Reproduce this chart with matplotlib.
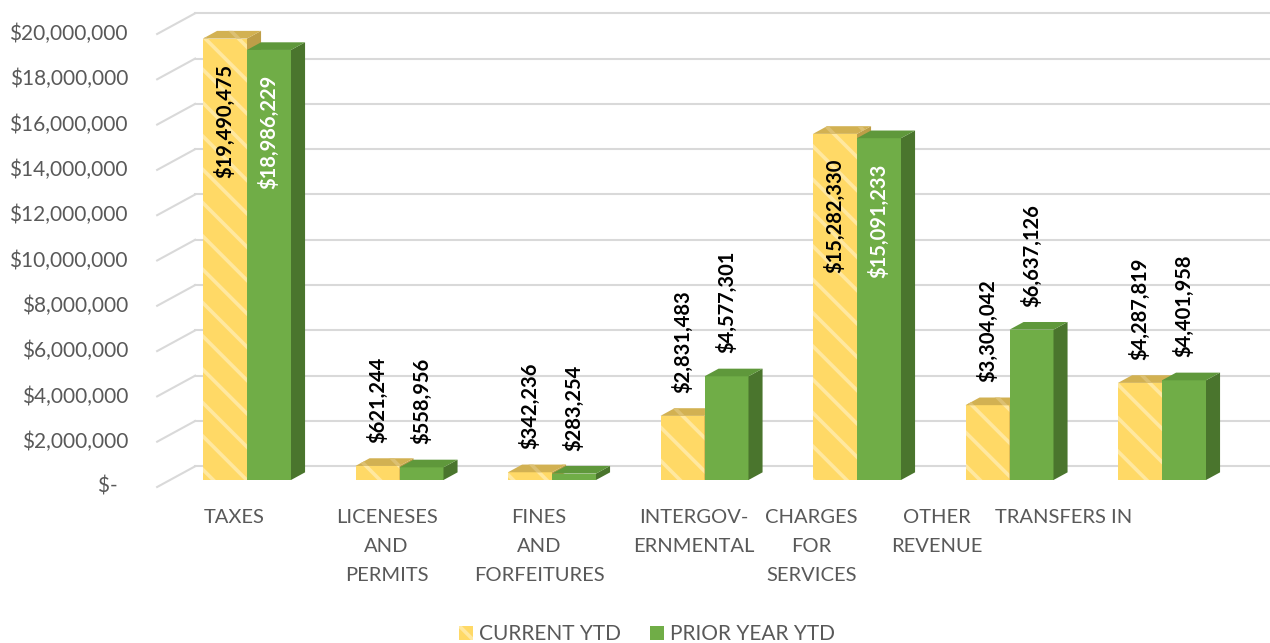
import matplotlib
matplotlib.use('Agg')
import matplotlib.pyplot as plt
from matplotlib.patches import Patch
import numpy as np

# data
categories = ['TAXES', 'LICENESES\nAND\nPERMITS', 'FINES\nAND\nFORFEITURES', 'INTERGOV-\nERNMENTAL',
              'CHARGES\nFOR\nSERVICES', 'OTHER\nREVENUE', 'TRANSFERS IN']
current_ytd = [19490475, 621244, 342236, 2831483, 15282330, 3304042, 4287819]
prior_ytd = [18986229, 558956, 283254, 4577301, 15091233, 6637126, 4401958]
series_names = ['CURRENT YTD', 'PRIOR YEAR YTD']
y_ticks = np.arange(0, 20000001, 2000000)

plt.rcParams['font.family'] = ['Lato', 'DejaVu Sans']
plt.rcParams['hatch.linewidth'] = 2.6

YELLOW = '#FFD966'
YELLOW_STRIPE = '#FFE8A0'
YELLOW_TOP = '#D2B152'
YELLOW_TOP_STRIPE = '#DCC072'
YELLOW_SIDE = '#BE9E48'
GREEN = '#70AD47'
GREEN_TOP = '#5F983B'
GREEN_SIDE = '#4A752D'
GRID = '#D9D9D9'
TEXT = '#595959'

# pixel scale of the 3d-ish box
PX_CAT = 152.5          # px per category
PX_VAL = 22.65e-6       # px per dollar
DEPTH_X = 38 / PX_CAT   # full depth of the box, in data units
DEPTH_Y = 20.7 / PX_VAL
F0 = 0.338              # bar front position within depth
BAR_D = 0.37            # bar depth fraction
W = 44 / PX_CAT         # bar width

fig = plt.figure(figsize=(12.7, 6.43), dpi=100)
ax = fig.add_axes([0, 0, 1, 1])
ax.set_axis_off()
ax.set_xlim((0 - 247) / PX_CAT, (1270 - 247) / PX_CAT)
ax.set_ylim((480 - 643) / PX_VAL, 480 / PX_VAL)

n = len(categories)
x = np.arange(n)
wall_left = -0.505
wall_right = wall_left + n + 0.04

# back wall gridlines and the slanted side wall lines
for v in y_ticks:
    yb = v + (1 - F0) * DEPTH_Y
    yf = v - F0 * DEPTH_Y
    xb = wall_left + (1 - F0) * DEPTH_X
    xf = wall_left - F0 * DEPTH_X
    ax.plot([xb, wall_right + (1 - F0) * DEPTH_X], [yb, yb], color=GRID, lw=1.5, zorder=0)
    ax.plot([xf, xb], [yf, yb], color=GRID, lw=1.5, zorder=0)
    label = '$-  ' if v == 0 else '${:,.0f}'.format(v)
    ax.text(128 / 1270, yf, label, transform=ax.get_yaxis_transform(), ha='right', va='center',
            fontsize=15, color=TEXT)

bdx = BAR_D * DEPTH_X
bdy = BAR_D * DEPTH_Y


def draw_bar(xl, v, front, top, side, stripe=None, top_stripe=None, z=2):
    if stripe:
        ax.bar(xl, v, width=W, align='edge', color=front, edgecolor=stripe, hatch='\\', lw=0, zorder=z)
    else:
        ax.bar(xl, v, width=W, align='edge', color=front, lw=0, zorder=z)
    xr = xl + W
    ax.fill([xr, xr, xr + bdx, xr + bdx], [0, v, v + bdy, bdy], color=side, lw=0, zorder=z)
    if top_stripe:
        ax.fill([xl, xr, xr + bdx, xl + bdx], [v, v, v + bdy, v + bdy], facecolor=top,
                edgecolor=top_stripe, hatch='\\', lw=0, zorder=z)
    else:
        ax.fill([xl, xr, xr + bdx, xl + bdx], [v, v, v + bdy, v + bdy], color=top, lw=0, zorder=z)


for i in range(n):
    draw_bar(x[i] - W, current_ytd[i], YELLOW, YELLOW_TOP, YELLOW_SIDE, YELLOW_STRIPE, YELLOW_TOP_STRIPE, z=2)
    draw_bar(x[i], prior_ytd[i], GREEN, GREEN_TOP, GREEN_SIDE, z=3)

# data labels
for i in range(n):
    for xc, v, inside_color in [(x[i] - W / 2, current_ytd[i], 'black'), (x[i] + W / 2, prior_ytd[i], 'white')]:
        txt = '${:,.0f}'.format(v)
        if v > 10e6:
            ax.text(xc, v - 25 / PX_VAL, txt, rotation=90, ha='center', va='top', fontsize=14.5,
                    fontweight='bold', color=inside_color, zorder=5)
        else:
            ax.text(xc, v + 23 / PX_VAL, txt, rotation=90, ha='center', va='bottom', fontsize=14.5,
                    fontweight='bold', color='black', zorder=5)

# category labels (Excel nudged the last ones left)
label_shift = [0, 0, 0, 0.015, -0.216, -0.393, -0.564]
for i in range(n):
    ax.text(x[i] - F0 * DEPTH_X + label_shift[i], 1 - 509 / 643, categories[i],
            transform=ax.get_xaxis_transform(), ha='center', va='top', multialignment='center',
            fontsize=14.5, color=TEXT, linespacing=1.85)

handles = [Patch(facecolor=YELLOW, edgecolor=YELLOW_STRIPE, hatch='\\', lw=0),
           Patch(facecolor=GREEN, lw=0)]
fig.legend(handles, series_names, loc='center', bbox_to_anchor=(647 / 1270, 1 - 634 / 643), ncol=2,
           frameon=False, fontsize=15, labelcolor=TEXT, handlelength=0.68, handleheight=0.68,
           handletextpad=0.3, columnspacing=1.4)

fig.savefig('out.png', dpi=100)
